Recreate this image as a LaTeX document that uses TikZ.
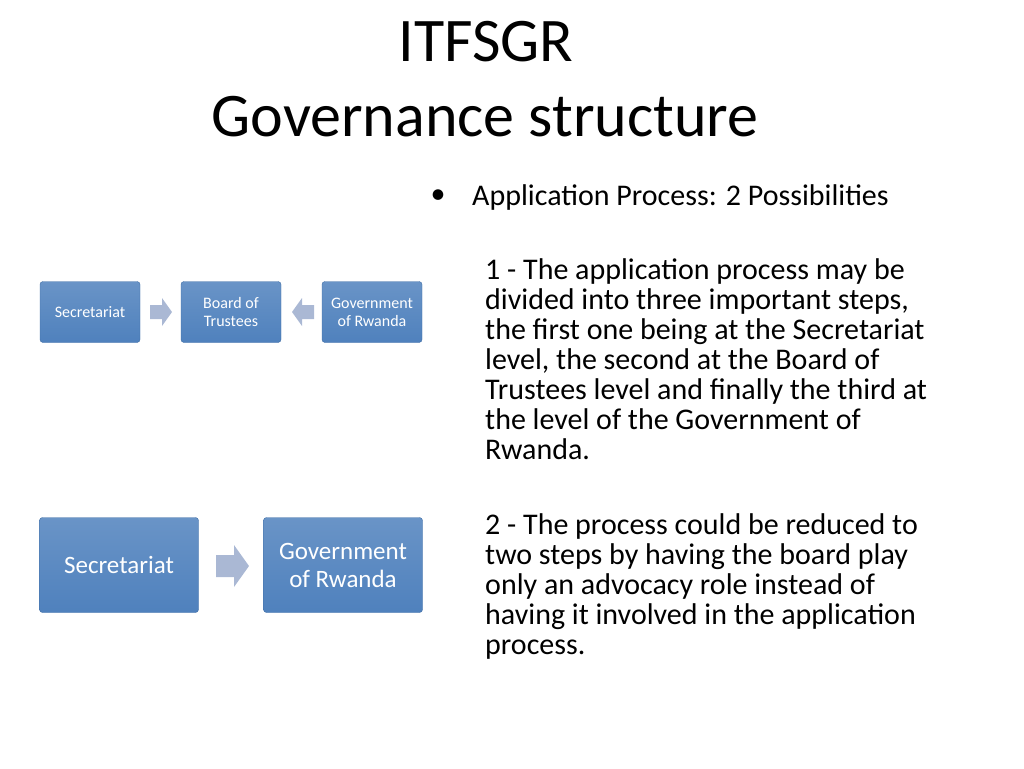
\documentclass[tikz,border=0pt]{standalone}
\usepackage{fontspec}
\setmainfont{Carlito}
\usetikzlibrary{positioning}
\definecolor{boxblue}{RGB}{79,129,189}
\definecolor{boxedge}{RGB}{64,110,165}
\definecolor{arrowgray}{RGB}{170,184,212}
\begin{document}
\begin{tikzpicture}[x=1pt,y=-1pt]
        % Styles
        \tikzset{
          stepbox/.style={draw=boxedge, top color=boxblue!85!white, bottom color=boxblue, rounded corners=3pt, text=white, align=center, inner sep=0pt},
          smallbox/.style={stepbox, minimum width=100pt, minimum height=61pt, font=\fontsize{16}{18}\selectfont},
          bigbox/.style={stepbox, minimum width=159pt, minimum height=95pt, font=\fontsize{25}{28}\selectfont},
          blockarrow/.style={fill=arrowgray, draw=none},
          bodytext/.style={anchor=north west, align=flush left, inner sep=0pt, text width=520pt, font=\fontsize{30}{30}\selectfont}
        }
        \useasboundingbox (0,0) rectangle (1024,768);

        % Title
        \node (title1) at (486,42) {\fontsize{62}{66}\selectfont ITFSGR};
        \node (title2) at (485,117) {\fontsize{62}{66}\selectfont Governance structure};

        % First possibility: three steps
        \node (sec1)[smallbox] at (90,312) {Secretariat};
        \node (board)[smallbox] at (231,312) {Board of\\Trustees};
        \node (gov1)[smallbox] at (372,312) {Government\\of Rwanda};
        \coordinate (arr1) at (150,312);
        \coordinate (arr2) at (314,312);
        \fill[blockarrow, shift={(arr1)}] (0,-7) -- (12,-7) -- (12,-14) -- (22,0) -- (12,14) -- (12,7) -- (0,7) -- cycle;
        \fill[blockarrow, shift={(arr2)}] (0,-7) -- (-12,-7) -- (-12,-14) -- (-22,0) -- (-12,14) -- (-12,7) -- (0,7) -- cycle;

        % Second possibility: two steps
        \node (sec2)[bigbox] at (119,565) {Secretariat};
        \node (gov2)[bigbox] at (343,565) {Government\\of Rwanda};
        \coordinate (arr3) at (216,566);
        \fill[blockarrow, shift={(arr3)}] (0,-11) -- (18,-11) -- (18,-21) -- (33,0) -- (18,21) -- (18,11) -- (0,11) -- cycle;

        % Text
        \node (bullet) at (438,197) {\fontsize{30}{30}\selectfont\textbullet};
        \node (heading)[anchor=west, inner sep=0pt] at (472,197) {\fontsize{30}{30}\selectfont Application Process: 2 Possibilities};
        \node (para1)[bodytext] at (485,258) {1 - The application process may be\\divided into three important steps,\\the first one being at the Secretariat\\level, the second at the Board of\\Trustees level and finally the third at\\the level of the Government of\\Rwanda.};
        \node (para2)[bodytext] at (485,513) {2 - The process could be reduced to\\two steps by having the board play\\only an advocacy role instead of\\having it involved in the application\\process.};
\end{tikzpicture}
\end{document}
